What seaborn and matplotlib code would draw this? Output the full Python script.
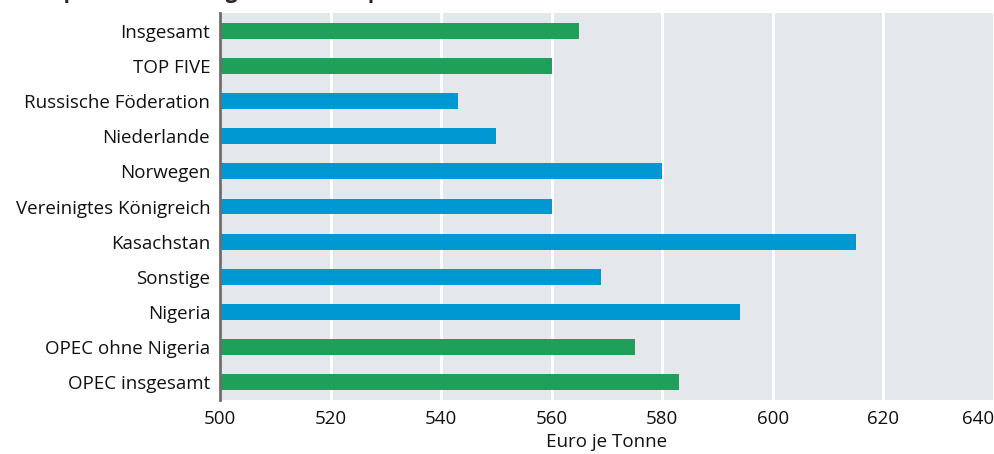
import pandas as pd
import seaborn as sns
import matplotlib.pyplot as plt

# Werte (Euro je Tonne)
laender = ['Insgesamt', 'TOP FIVE', 'Russische Föderation', 'Niederlande',
           'Norwegen', 'Vereinigtes Königreich', 'Kasachstan', 'Sonstige',
           'Nigeria', 'OPEC ohne Nigeria', 'OPEC insgesamt']
preise = [565, 560, 543, 550, 580, 560, 615, 569, 594, 575, 583]
gruppe = ['Summe', 'Summe', 'Land', 'Land', 'Land', 'Land', 'Land', 'Land',
          'Land', 'Summe', 'Summe']
x_ticks = [500, 520, 540, 560, 580, 600, 620, 640]

df = pd.DataFrame({'Land': laender, 'Preis': preise, 'Gruppe': gruppe})

sns.set_theme(style='whitegrid')
plt.rcParams['font.family'] = ['Open Sans', 'DejaVu Sans']

fig = plt.figure(figsize=(9.94, 4.54), dpi=100)
ax = fig.add_axes([0.2213, 0.119, 0.7787, 0.852])

farben = {'Summe': '#1e9f5a', 'Land': '#0098d2'}
sns.barplot(data=df, x='Preis', y='Land', hue='Gruppe', palette=farben,
            orient='h', width=0.45, dodge=False, legend=False, saturation=1,
            linewidth=0, ax=ax)

ax.set_facecolor('#e4e8ec')
ax.set_xlim(500, 640)
ax.set_ylim(len(laender) - 0.5, -0.5)
ax.set_xticks(x_ticks)
ax.grid(axis='x', color='white', linewidth=2.2)
ax.grid(axis='y', visible=False)
ax.set_axisbelow(True)
for s in ['top', 'right', 'bottom']:
    ax.spines[s].set_visible(False)
ax.spines['left'].set_color('#6e6e6e')
ax.spines['left'].set_linewidth(2)

ax.tick_params(axis='y', length=0, labelsize=13.5, colors='#111111', pad=7)
ax.tick_params(axis='x', length=0, labelsize=13.5, colors='#111111', pad=7)
ax.set_ylabel('')
ax.set_xlabel('Euro je Tonne', fontsize=13.5, color='#111111', labelpad=4)
lbls = ax.get_xticklabels()
lbls[-1].set_horizontalalignment('right')

# abgeschnittener Titel am oberen Rand
fig.text(0.004, 1.005, 'Rohölpreise nach ausgewählten Importländern 2019',
         fontsize=15, fontweight='bold', va='baseline', ha='left')

fig.savefig('out.png', dpi=100)
